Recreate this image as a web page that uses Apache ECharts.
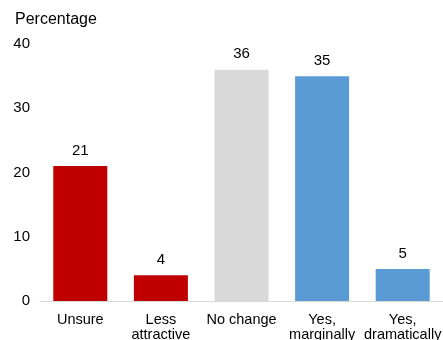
<!DOCTYPE html>
<html>
<head>
<meta charset="utf-8">
<script src="https://cdn.jsdelivr.net/npm/echarts@6/dist/echarts.min.js"></script>
<style>
  html, body { margin: 0; padding: 0; background: #fff; }
  #chart { width: 443px; height: 340px; }
</style>
</head>
<body>
<div id="chart"></div>
<script>
// Survey responses, share of respondents (%)
const categories = ['Unsure', 'Less\nattractive', 'No change', 'Yes,\nmarginally', 'Yes,\ndramatically'];
const values = [21, 4, 36, 35, 5];
const barColors = ['#C00000', '#C00000', '#D9D9D9', '#5B9BD5', '#5B9BD5'];
const yTicks = [0, 10, 20, 30, 40];

const FONT = 'Arial, "Liberation Sans", sans-serif';
const chart = echarts.init(document.getElementById('chart'));
chart.setOption({
  animation: false,
  textStyle: { fontFamily: FONT },
  graphic: [{
    type: 'text',
    left: 15,
    top: 12,
    style: { text: 'Percentage', fontSize: 16, fill: '#000', fontFamily: FONT }
  }],
  grid: { left: 40, right: 0, top: 44, bottom: 39, containLabel: false, outerBoundsMode: 'none' },
  xAxis: {
    type: 'category',
    data: categories,
    axisLine: { lineStyle: { color: '#D9D9D9', width: 1 } },
    axisTick: { show: false },
    axisLabel: { color: '#000', fontSize: 14.5, lineHeight: 15, margin: 11, interval: 0 }
  },
  yAxis: {
    type: 'value',
    min: yTicks[0],
    max: yTicks[yTicks.length - 1],
    interval: 10,
    axisLine: { show: false },
    axisTick: { show: false },
    splitLine: { show: false },
    axisLabel: { color: '#000', fontSize: 15, margin: 10 }
  },
  series: [{
    type: 'bar',
    barWidth: '67%',
    data: values.map((v, i) => ({ value: v, itemStyle: { color: barColors[i] } })),
    label: { show: true, position: 'top', distance: 8, color: '#000', fontSize: 15 }
  }]
});
</script>
</body>
</html>
